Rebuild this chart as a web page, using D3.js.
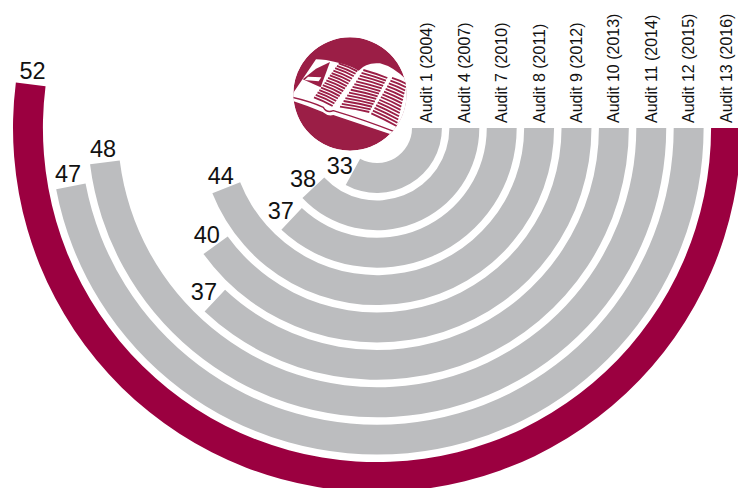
<!DOCTYPE html>
<html>
<head>
<meta charset="utf-8">
<script src="https://cdn.jsdelivr.net/npm/d3@7"></script>
<style>
  html, body { margin: 0; padding: 0; background: #fff; }
  svg { display: block; }
  text { font-family: "Liberation Sans", Arial, sans-serif; fill: #111; }
</style>
</head>
<body>
<div id="chart"></div>
<script>
var audits = ["Audit 1 (2004)", "Audit 4 (2007)", "Audit 7 (2010)", "Audit 8 (2011)", "Audit 9 (2012)",
  "Audit 10 (2013)", "Audit 11 (2014)", "Audit 12 (2015)", "Audit 13 (2016)"];
var values = [33, 38, 37, 44, 40, 37, 48, 47, 52];
var highlighted = ["Audit 13 (2016)"];

var width = 738, height = 488;
var cx = 377, cy = 128;

var svg = d3.select("#chart").append("svg")
  .attr("width", width)
  .attr("height", height)
  .style("overflow", "hidden");

var radius = d3.scaleBand().domain(audits).range([35, 364]).paddingInner(0.2);
// 100% is a full turn, bars start pointing right and run clockwise
var angle = d3.scaleLinear().domain([0, 100]).range([Math.PI / 2, Math.PI / 2 + 2 * Math.PI]);

var arc = d3.arc()
  .innerRadius(function (d) { return radius(d.audit); })
  .outerRadius(function (d) { return radius(d.audit) + radius.bandwidth(); })
  .startAngle(angle(0))
  .endAngle(function (d) { return angle(d.value); });

var rows = audits.map(function (a, i) { return { audit: a, value: values[i] }; });

var g = svg.append("g").attr("transform", "translate(" + cx + "," + cy + ")");

g.selectAll("path.bar")
  .data(rows)
  .enter()
  .append("path")
  .attr("class", "bar")
  .attr("d", arc)
  .attr("fill", function (d) { return highlighted.indexOf(d.audit) >= 0 ? "#9b0040" : "#bcbdbf"; });

// value labels sit just past the end of each bar, along its tangent
g.selectAll("text.value")
  .data(rows)
  .enter()
  .append("text")
  .attr("class", "value")
  .attr("font-size", 23.5)
  .attr("text-anchor", "middle")
  .attr("dy", "0.42em")
  .attr("x", function (d) {
    var a = angle(d.value), r = radius(d.audit) + radius.bandwidth() / 2;
    return r * Math.sin(a) + 15 * Math.cos(a);
  })
  .attr("y", function (d) {
    var a = angle(d.value), r = radius(d.audit) + radius.bandwidth() / 2;
    return -r * Math.cos(a) + 15 * Math.sin(a);
  })
  .text(function (d) { return d.value; });

// audit names above the start of each bar
g.selectAll("text.audit")
  .data(rows)
  .enter()
  .append("text")
  .attr("class", "audit")
  .attr("font-size", 16)
  .attr("transform", function (d) {
    var x = radius(d.audit) + radius.bandwidth() / 2 + 5.5;
    return "translate(" + x + ",-5) rotate(-90)";
  })
  .text(function (d) { return d.audit; });

// book icon, drawn in 3x pixel units
var crimson = "#9b1e46";
var defs = svg.append("defs");
defs.append("clipPath").attr("id", "iconClip")
  .append("circle").attr("cx", 210).attr("cy", 282).attr("r", 170);

var icon = svg.append("g")
  .attr("transform", "translate(280,0) scale(0.3333)")
  .attr("clip-path", "url(#iconClip)");

icon.append("circle").attr("cx", 210).attr("cy", 282).attr("r", 170).attr("fill", crimson);

icon.append("path")
  .attr("fill", "#fff")
  .attr("d", "M36,284 L108,178 Q135,178 175,188 Q215,198 236,212 Q258,186 300,190 Q340,200 380,240 L385,330 L362,384 L334,412 L330,402 Q240,372 160,345 Q145,350 128,336 Q80,316 36,302 Z");

// hatched text lines on the pages
function hatch(n, a, b, c, d, bow) {
  var lines = d3.range(n).map(function (i) {
    var t = i / (n - 1);
    var x0 = a[0] + (c[0] - a[0]) * t, y0 = a[1] + (c[1] - a[1]) * t;
    var x1 = b[0] + (d[0] - b[0]) * t, y1 = b[1] + (d[1] - b[1]) * t;
    return "M" + x0 + "," + y0 + "Q" + (x0 + x1) / 2 + "," + ((y0 + y1) / 2 - bow) + " " + x1 + "," + y1;
  });
  icon.append("path")
    .attr("d", lines.join(""))
    .attr("fill", "none")
    .attr("stroke", crimson)
    .attr("stroke-width", 5.5);
}
hatch(15, [176, 190], [232, 214], [102, 292], [158, 318], 3);
hatch(14, [250, 210], [322, 234], [180, 320], [268, 336], 2);
hatch(14, [336, 234], [380, 252], [274, 340], [350, 378], 2);

// picture block on the left page
icon.append("path").attr("fill", crimson)
  .attr("d", "M150,186 L122,262 L68,238 L108,206 Z");
icon.append("path").attr("fill", "#fff")
  .attr("d", "M84,230 L124,232 L116,244 L74,240 Z");

// page edges along the bottom of the book
icon.append("path")
  .attr("fill", "none")
  .attr("stroke", crimson)
  .attr("stroke-width", 4)
  .attr("d", "M36,292 Q90,304 130,322 Q140,340 160,332 Q260,362 345,396");
</script>
</body>
</html>
